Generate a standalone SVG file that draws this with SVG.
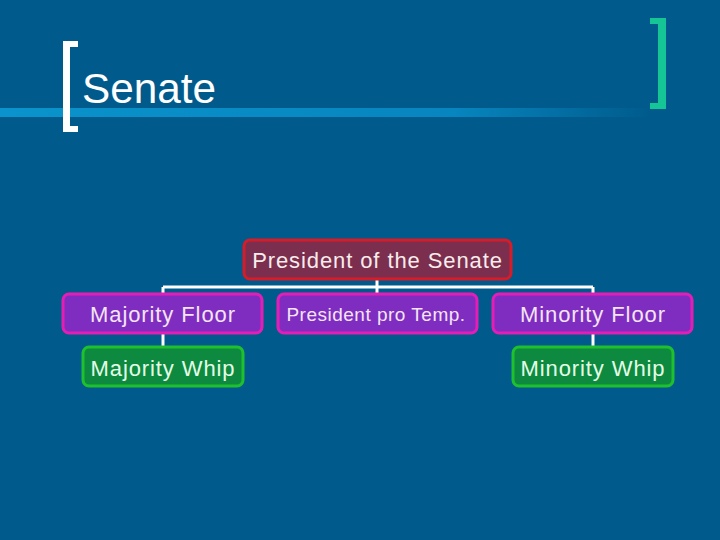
<svg xmlns="http://www.w3.org/2000/svg" width="720" height="540" viewBox="0 0 720 540">
<style>
.t{font-family:"Liberation Sans",Arial,sans-serif;text-anchor:middle;font-size:22px;letter-spacing:0.9px}
.p rect{fill:#7E2DC0;stroke:#E41EB4;stroke-width:3}
.p text{fill:#F4E4F4}
.g rect{fill:#0D8A3F;stroke:#1FC02E;stroke-width:3}
.g text{fill:#E4FFE8}
.m rect{fill:#7C2E4E;stroke:#D61C28;stroke-width:3}
.m text{fill:#F8ECEC}
.c line{stroke:#FFFFFF;stroke-width:3}
</style>
<defs>
<linearGradient id="bar" x1="0" x2="1" y1="0" y2="0">
<stop offset="0" stop-color="#0A93CC"/>
<stop offset="0.7" stop-color="#0785BE"/>
<stop offset="1" stop-color="#005B8C"/>
</linearGradient>
</defs>
<rect width="720" height="540" fill="#005B8C"/>
<rect x="0" y="108" width="650" height="9" fill="url(#bar)"/>
<path d="M78 41H63V132H78V126H70V47H78Z" fill="#FFFFFF"/>
<path d="M650 18H666V109H650V103H658V24H650Z" fill="#16C596"/>
<text x="82" y="103" font-family="Liberation Sans,Arial,sans-serif" font-size="42" fill="#FFFFFF" textLength="134" lengthAdjust="spacingAndGlyphs">Senate</text>
<g id="connectors" class="c">
<line x1="377" y1="279" x2="377" y2="296"/>
<line x1="163" y1="287" x2="593" y2="287"/>
<line x1="163" y1="287" x2="163" y2="296"/>
<line x1="593" y1="287" x2="593" y2="296"/>
<line x1="163" y1="333" x2="163" y2="348"/>
<line x1="593" y1="333" x2="593" y2="348"/>
</g>
<g id="president" class="m"><rect x="244" y="240" width="267" height="39" rx="6"/><text class="t" x="377.5" y="268">President of the Senate</text></g>
<g id="majority-floor" class="p"><rect x="63" y="294" width="199" height="39" rx="6"/><text class="t" x="163" y="322">Majority Floor</text></g>
<g id="pro-temp" class="p"><rect x="278" y="294" width="199" height="39" rx="6"/><text class="t" x="376" y="321" style="font-size:19px;letter-spacing:0.5px">President pro Temp.</text></g>
<g id="minority-floor" class="p"><rect x="493" y="294" width="199" height="39" rx="6"/><text class="t" x="593" y="322">Minority Floor</text></g>
<g id="majority-whip" class="g"><rect x="83" y="347" width="160" height="39" rx="6"/><text class="t" x="163" y="376">Majority Whip</text></g>
<g id="minority-whip" class="g"><rect x="513" y="347" width="160" height="39" rx="6"/><text class="t" x="593" y="376">Minority Whip</text></g>
</svg>
